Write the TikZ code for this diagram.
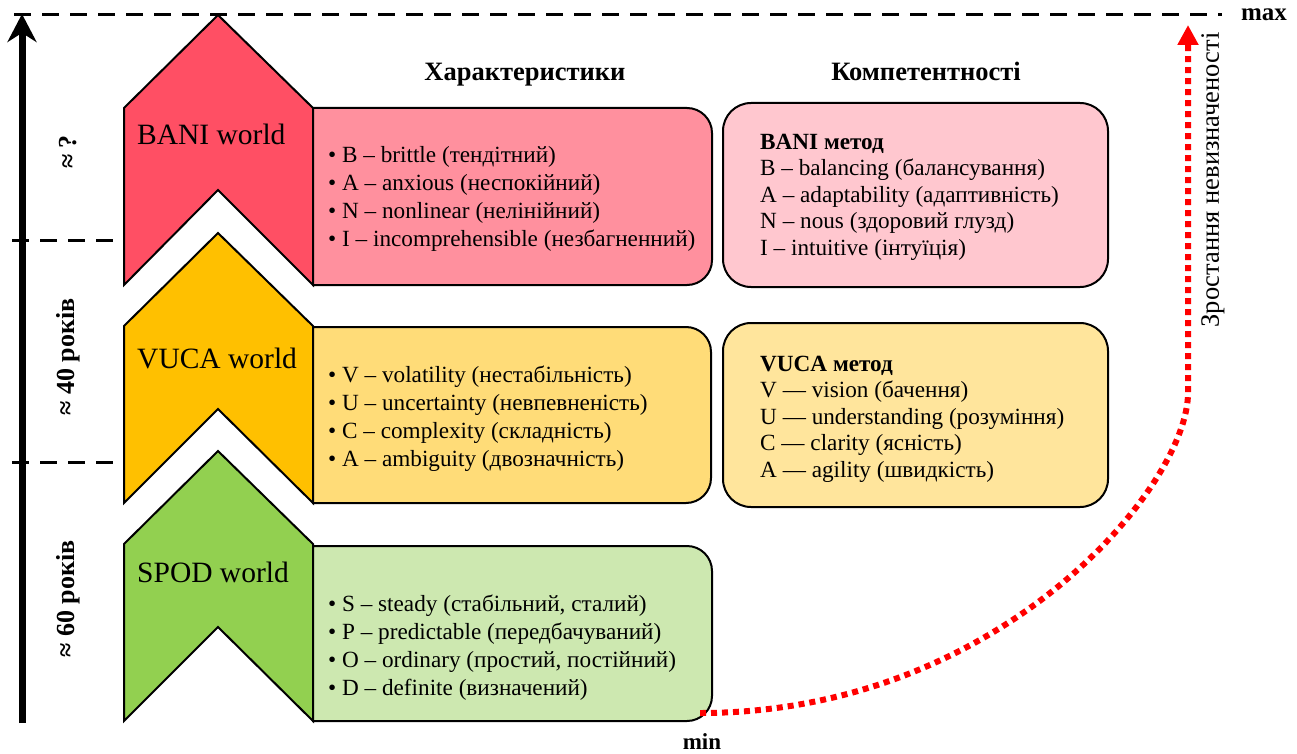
\documentclass[tikz,border=0pt]{standalone}
\usepackage{fontspec}
\setmainfont{Liberation Serif}
\usetikzlibrary{arrows.meta}
\definecolor{baniD}{HTML}{FF4F64}
\definecolor{baniL}{HTML}{FF909E}
\definecolor{baniC}{HTML}{FFC7CF}
\definecolor{vucaD}{HTML}{FFC000}
\definecolor{vucaL}{HTML}{FFDC78}
\definecolor{vucaC}{HTML}{FFE59C}
\definecolor{spodD}{HTML}{92D050}
\definecolor{spodL}{HTML}{CDE8B0}
\definecolor{curvered}{HTML}{FF0000}
\tikzset{
  chev/.style={draw=black, line width=2pt, line join=miter},
  charbox/.style={draw=black, line width=2pt},
  complbox/.style={draw=black, line width=2pt, rounded corners=28pt, minimum width=385pt, minimum height=184pt, inner sep=0pt},
  wlabel/.style={font=\fontsize{29.5}{32}\selectfont, anchor=west, inner sep=0pt},
  lst/.style={font=\fontsize{23.2}{28}\selectfont, align=left, anchor=west, inner sep=0pt},
  lsttwo/.style={font=\fontsize{23.2}{26.5}\selectfont, align=left, anchor=west, inner sep=0pt},
  heading/.style={font=\bfseries\fontsize{26.5}{30}\selectfont, inner sep=0pt},
  vlabel/.style={font=\bfseries\fontsize{26}{30}\selectfont, rotate=90, inner sep=0pt},
  dashln/.style={line width=3pt, dash pattern=on 17pt off 11pt},
  uncert/.style={curvered, line width=6pt, dash pattern=on 6pt off 5pt, -{Triangle[length=20pt,width=20pt]}},
  timeaxis/.style={line width=7pt, -{Stealth[length=28pt,width=29pt]}}
}
\begin{document}
\begin{tikzpicture}[x=1pt,y=-1pt]
\useasboundingbox (0,0) rectangle (1297,754);

% dashed guide lines
\coordinate (topL) at (14,15);
\coordinate (topR) at (1222,15);
\coordinate (t1L) at (12,240);
\coordinate (t1R) at (118,240);
\coordinate (t2L) at (12,462);
\coordinate (t2R) at (118,462);
\draw[dashln] (topL) -- (topR);
\draw[dashln] (t1L) -- (t1R);
\draw[dashln] (t2L) -- (t2R);

% time axis
\coordinate (axB) at (22,723);
\coordinate (axT) at (22,14);
\draw[timeaxis] (axB) -- (axT);

\node[vlabel] (lq) at (68,152) {≈ ?};
\node[vlabel] (l40) at (68,357) {≈ 40 років};
\node[vlabel] (l60) at (68,599) {≈ 60 років};

% chevrons
\filldraw[chev, fill=baniD] (124,108) -- (218,15) -- (313,108) -- (313,285) -- (218,190) -- (124,285) -- cycle;
\filldraw[chev, fill=vucaD] (124,326) -- (218,233) -- (313,326) -- (313,503) -- (218,409) -- (124,503) -- cycle;
\filldraw[chev, fill=spodD] (124,544) -- (218,451) -- (313,544) -- (313,721) -- (218,627) -- (124,721) -- cycle;

\node[wlabel] (bw) at (137,134.5) {BANI world};
\node[wlabel] (vw) at (137,358) {VUCA world};
\node[wlabel] (sw) at (137,572) {SPOD world};

% characteristics boxes
\filldraw[charbox, fill=baniL] (313,108) -- (687,108) .. controls (700.8,108) and (712,119.2) .. (712,133) -- (712,260) .. controls (712,273.8) and (700.8,285) .. (687,285) -- (313,285) -- cycle;
\filldraw[charbox, fill=vucaL] (313,327) -- (686,327) .. controls (699.8,327) and (711,338.2) .. (711,352) -- (711,478) .. controls (711,491.8) and (699.8,503) .. (686,503) -- (313,503) -- cycle;
\filldraw[charbox, fill=spodL] (313,546) -- (687,546) .. controls (700.8,546) and (712,557.2) .. (712,571) -- (712,696) .. controls (712,709.8) and (700.8,721) .. (687,721) -- (313,721) -- cycle;

\node[lst] (bchar) at (328,199) {• B – brittle (тендітний)\\• A – anxious (неспокійний)\\• N – nonlinear (нелінійний)\\• I – incomprehensible (незбагненний)};
\node[lst] (vchar) at (328,419) {• V – volatility (нестабільність)\\• U – uncertainty (невпевненість)\\• C – complexity (складність)\\• A – ambiguity (двозначність)};
\node[lst] (schar) at (328,648) {• S – steady (стабільний, сталий)\\• P – predictable (передбачуваний)\\• O – ordinary (простий, постійний)\\• D – definite (визначений)};

% competence boxes
\node[complbox, fill=baniC] (bcomp) at (915.5,195) {};
\node[complbox, fill=vucaC] (vcomp) at (915.5,415) {};
\node[lsttwo] (bcompt) at (760,197) {\textbf{BANI метод}\\B – balancing (балансування)\\A – adaptability (адаптивність)\\N – nous (здоровий глузд)\\I – intuitive (інтуїція)};
\node[lsttwo] (vcompt) at (760,419) {\textbf{VUCA метод}\\V — vision (бачення)\\U — understanding (розуміння)\\C — clarity (ясність)\\A — agility (швидкість)};

% headings
\node[heading] (h1) at (525,75) {Характеристики};
\node[heading] (h2) at (926,71) {Компетентності};

% uncertainty curve
\coordinate (minpt) at (700,713);
\coordinate (bend) at (1188,393);
\coordinate (maxpt) at (1188,25);
\draw[uncert] (minpt) .. controls (1000,713) and (1188,486) .. (bend) -- (maxpt);
\node[heading, font=\bfseries\fontsize{23}{26}\selectfont] (minl) at (702,742) {min};
\node[heading, font=\bfseries\fontsize{25}{28}\selectfont] (maxl) at (1264,15) {max};
\node[font=\fontsize{26.5}{30}\selectfont, rotate=90, inner sep=0pt] (unc) at (1213,180) {Зростання невизначеності};
\end{tikzpicture}
\end{document}
